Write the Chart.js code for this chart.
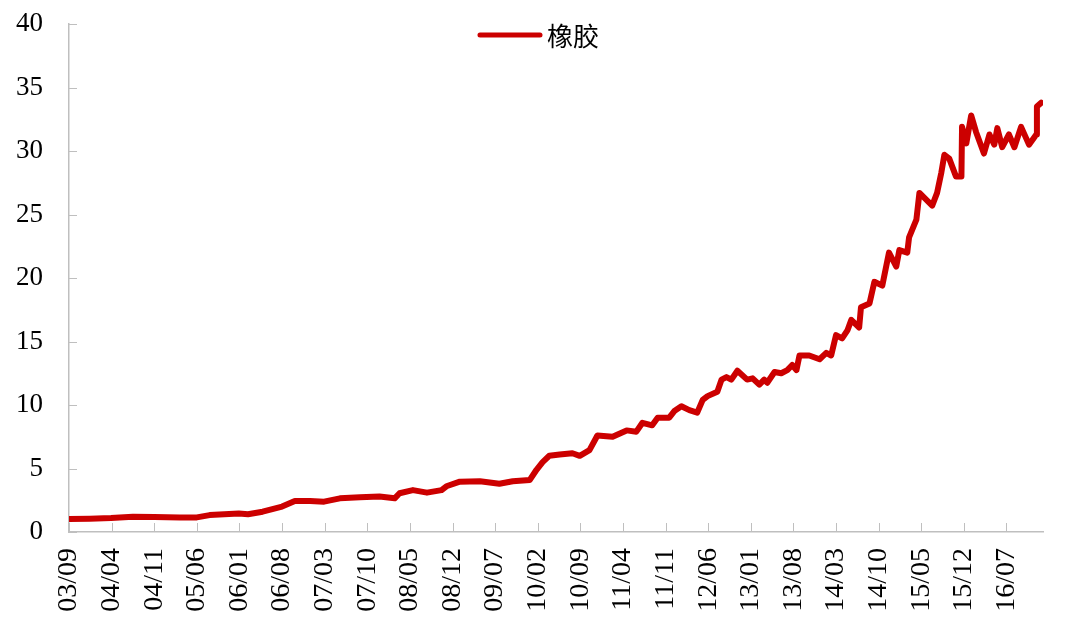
<!DOCTYPE html>
<html>
<head>
<meta charset="utf-8">
<script src="https://cdn.jsdelivr.net/npm/chart.js@4.4.1/dist/chart.umd.min.js"></script>
<style>
html, body { margin: 0; padding: 0; background: #fff; }
#wrap { width: 1065px; height: 633px; }
</style>
</head>
<body>
<div id="wrap"><canvas id="myChart" width="1065" height="633"></canvas></div>
<script>
// 橡胶 index
const dates = [
    '2003-09-01', '2003-12-13', '2004-03-28', '2004-07-16', '2004-11-01', '2005-03-07', '2005-06-01', '2005-08-04',
    '2005-12-28', '2006-02-13', '2006-04-25', '2006-08-01', '2006-10-04', '2006-12-19', '2007-02-28', '2007-05-16',
    '2007-08-25', '2007-12-01', '2008-02-16', '2008-03-10', '2008-05-16', '2008-07-25', '2008-10-07', '2008-11-01',
    '2009-01-07', '2009-04-16', '2009-07-22', '2009-09-28', '2009-12-22', '2010-01-25', '2010-02-25', '2010-03-28',
    '2010-05-19', '2010-07-22', '2010-08-28', '2010-10-16', '2010-11-25', '2011-02-10', '2011-04-19', '2011-06-07',
    '2011-07-07', '2011-08-25', '2011-09-22', '2011-11-19', '2011-12-16', '2012-01-19', '2012-02-28', '2012-04-07',
    '2012-05-04', '2012-05-28', '2012-07-16', '2012-08-07', '2012-09-01', '2012-09-25', '2012-10-25', '2012-12-13',
    '2013-01-10', '2013-02-13', '2013-03-07', '2013-03-22', '2013-04-28', '2013-06-01', '2013-07-01', '2013-07-25',
    '2013-08-16', '2013-09-01', '2013-10-19', '2013-12-10', '2014-01-13', '2014-02-07', '2014-03-01', '2014-04-01',
    '2014-04-28', '2014-05-16', '2014-06-25', '2014-07-04', '2014-08-16', '2014-09-10', '2014-10-19', '2014-11-22',
    '2014-12-28', '2015-01-13', '2015-02-22', '2015-03-01', '2015-04-07', '2015-04-22', '2015-06-25', '2015-07-19',
    '2015-08-10', '2015-08-25', '2015-09-19', '2015-10-22', '2015-11-19', '2015-11-22', '2015-12-13', '2016-01-07',
    '2016-02-01', '2016-03-10', '2016-04-07', '2016-05-01', '2016-05-16', '2016-06-10', '2016-07-13', '2016-08-10',
    '2016-09-13', '2016-10-22', '2016-11-28', '2016-12-01', '2016-12-22'
];
const rubber = [
    1.02, 1.05, 1.1, 1.2, 1.18, 1.15, 1.15, 1.33,
    1.45, 1.4, 1.6, 2.0, 2.44, 2.44, 2.39, 2.65,
    2.73, 2.8, 2.65, 3.05, 3.3, 3.1, 3.3, 3.6,
    3.96, 4.0, 3.8, 4.0, 4.1, 4.9, 5.5, 6.0,
    6.1, 6.2, 6.0, 6.45, 7.6, 7.5, 8.0, 7.9,
    8.6, 8.4, 9.0, 9.0, 9.55, 9.9, 9.6, 9.4,
    10.4, 10.7, 11.05, 12.0, 12.2, 12.0, 12.7, 12.0,
    12.1, 11.6, 12.0, 11.75, 12.6, 12.5, 12.75, 13.15,
    12.75, 13.9, 13.9, 13.6, 14.1, 13.9, 15.5, 15.25,
    15.9, 16.7, 16.1, 17.7, 18.0, 19.7, 19.4, 22.0,
    20.9, 22.2, 22.0, 23.2, 24.6, 26.7, 25.7, 26.7,
    28.3, 29.7, 29.4, 28.0, 28.0, 31.9, 30.6, 32.8,
    31.5, 29.8, 31.3, 30.5, 31.8, 30.3, 31.3, 30.3,
    31.9, 30.5, 31.3, 33.5, 33.8
];
const xTickLabels = ['03/09', '04/04', '04/11', '05/06', '06/01', '06/08', '07/03', '07/10', '08/05', '08/12', '09/07',
    '10/02', '10/09', '11/04', '11/11', '12/06', '13/01', '13/08', '14/03', '14/10', '15/05', '15/12', '16/07'];
const seriesName = '橡胶';

const lineColor = '#cc0000';
const axisColor = '#bfbfbf';
const serif = "'Liberation Serif', 'Times New Roman', serif";

// months since 2003/09
function toMonth(d) {
    const p = d.split('-').map(Number);
    return (p[0] - 2003) * 12 + (p[1] - 9) + (p[2] - 1) / 30;
}

const points = dates.map((d, i) => ({ x: toMonth(d), y: rubber[i] }));

// short tick marks pointing into the plot
const innerTicks = {
    id: 'innerTicks',
    beforeDatasetsDraw(chart) {
        const ctx = chart.ctx;
        const xs = chart.scales.x, ys = chart.scales.y;
        ctx.save();
        ctx.strokeStyle = axisColor;
        ctx.lineWidth = 1;
        ctx.beginPath();
        ys.ticks.forEach(t => {
            const py = Math.round(ys.getPixelForValue(t.value)) + 0.5;
            ctx.moveTo(xs.left, py);
            ctx.lineTo(xs.left + 8, py);
        });
        xs.ticks.forEach(t => {
            const px = Math.round(xs.getPixelForValue(t.value)) + 0.5;
            ctx.moveTo(px, ys.bottom);
            ctx.lineTo(px, ys.bottom - 9);
        });
        ctx.stroke();
        ctx.restore();
    }
};

// legend drawn inside the plot, near the top
const topLegend = {
    id: 'topLegend',
    afterDraw(chart) {
        const ctx = chart.ctx;
        const ds = chart.data.datasets[0];
        const cx = chart.width / 2 + 7;
        const cy = chart.chartArea.top + 11;
        ctx.save();
        ctx.font = "26px 'Noto Sans CJK SC', sans-serif";
        const tw = ctx.measureText(ds.label).width;
        const lineW = 60, gap = 7;
        const x0 = cx - (lineW + gap + tw) / 2;
        ctx.strokeStyle = ds.borderColor;
        ctx.lineWidth = 5;
        ctx.lineCap = 'round';
        ctx.beginPath();
        ctx.moveTo(x0, cy);
        ctx.lineTo(x0 + lineW, cy);
        ctx.stroke();
        ctx.fillStyle = '#000';
        ctx.textBaseline = 'middle';
        ctx.fillText(ds.label, x0 + lineW + gap, cy + 1);
        ctx.restore();
    }
};

const ctx = document.getElementById('myChart');
new Chart(ctx, {
    type: 'line',
    data: {
        datasets: [{
            label: seriesName,
            data: points,
            borderColor: lineColor,
            backgroundColor: lineColor,
            borderWidth: 6,
            borderJoinStyle: 'round',
            borderCapStyle: 'round',
            pointRadius: 0,
            tension: 0,
            fill: false
        }]
    },
    options: {
        responsive: false,
        devicePixelRatio: 1,
        animation: false,
        layout: { padding: { top: 24, right: 22, left: 0, bottom: 0 } },
        plugins: {
            tooltip: { enabled: false },
            legend: { display: false }
        },
        scales: {
            x: {
                type: 'linear',
                min: 0,
                max: 160,
                afterFit: s => { s.height = 101; },
                grid: { display: false, drawTicks: false },
                border: { display: true, color: axisColor, width: 1.5 },
                ticks: {
                    stepSize: 7,
                    includeBounds: false,
                    autoSkip: false,
                    minRotation: 90,
                    maxRotation: 90,
                    padding: 16,
                    color: '#000',
                    font: { family: serif, size: 28 },
                    callback: v => xTickLabels[Math.round(v / 7)]
                }
            },
            y: {
                min: 0,
                max: 40,
                afterFit: s => { s.width = 69; s.paddingTop = 0; s.paddingBottom = 0; },
                grid: { display: false, drawTicks: false },
                border: { display: true, color: axisColor, width: 1.5 },
                ticks: {
                    stepSize: 5,
                    padding: 26,
                    color: '#000',
                    font: { family: serif, size: 27 }
                }
            }
        }
    },
    plugins: [innerTicks, topLegend]
});
</script>
</body>
</html>
